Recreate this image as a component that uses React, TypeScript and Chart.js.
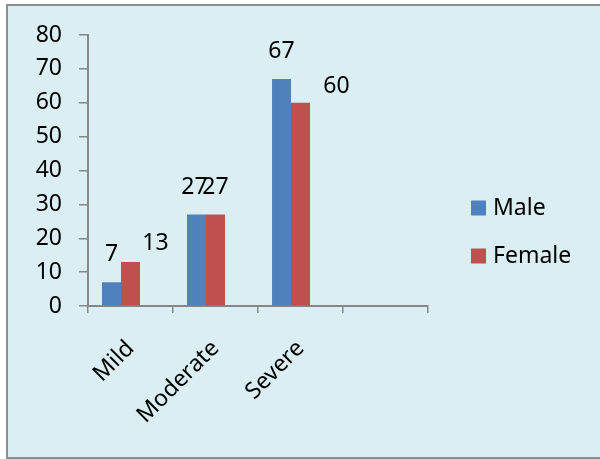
import { useEffect, useRef } from "react";
import { Chart, ChartConfiguration, Plugin, registerables } from "chart.js";

Chart.register(...registerables);

const categories = ["Mild", "Moderate", "Severe", ""];
const maleValues = [7, 27, 67];
const femaleValues = [13, 27, 60];
// third, empty series keeps the gap on the right of each group (as in the source sheet)
const blankValues: (number | null)[] = [null, null, null];
const yTicks = [0, 10, 20, 30, 40, 50, 60, 70, 80];

// where each value label sits relative to the top of its bar
const maleLabelOffsets = [
  [0, -28],
  [-2, -27],
  [0, -28],
];
const femaleLabelOffsets = [
  [25, -19],
  [0, -27],
  [36, -16],
];

const FONT = "'Noto Sans', sans-serif";
const FONT_SIZE = 23;
const AXIS_GREY = "#868686";

const valueLabels: Plugin<"bar"> = {
  id: "valueLabels",
  afterDatasetsDraw(chart) {
    const ctx = chart.ctx;
    const offsets = [maleLabelOffsets, femaleLabelOffsets];
    ctx.save();
    ctx.font = `${FONT_SIZE}px ${FONT}`;
    ctx.fillStyle = "#000";
    ctx.textAlign = "center";
    ctx.textBaseline = "middle";
    offsets.forEach((list, di) => {
      const meta = chart.getDatasetMeta(di);
      const values = chart.data.datasets[di].data as number[];
      meta.data.forEach((bar, i) => {
        if (values[i] == null) return;
        const [dx, dy] = list[i] || [0, -20];
        ctx.fillText(String(values[i]), bar.x + dx, bar.y + dy);
      });
    });
    ctx.restore();
  },
};

const sideLegend: Plugin<"bar"> = {
  id: "sideLegend",
  afterDraw(chart) {
    const ctx = chart.ctx;
    const left = chart.chartArea.right + 43;
    ctx.save();
    ctx.font = `${FONT_SIZE}px ${FONT}`;
    ctx.textBaseline = "middle";
    ctx.textAlign = "left";
    chart.data.datasets
      .filter((d) => d.label)
      .forEach((d, i) => {
        const cy = 208 + i * 48;
        ctx.fillStyle = d.backgroundColor as string;
        ctx.fillRect(left, cy - 7.5, 15, 15);
        ctx.fillStyle = "#000";
        ctx.fillText(d.label as string, left + 22, cy);
      });
    ctx.restore();
  },
};

export default function App() {
  const canvasRef = useRef<HTMLCanvasElement | null>(null);
  const chartRef = useRef<Chart | null>(null);

  useEffect(() => {
    document.body.style.margin = "0";
    if (!canvasRef.current) return;

    const config: ChartConfiguration<"bar"> = {
      type: "bar",
      data: {
        labels: categories,
        datasets: [
          { label: "Male", data: maleValues, backgroundColor: "#4F81BD" },
          { label: "Female", data: femaleValues, backgroundColor: "#C0504D" },
          { label: "", data: blankValues as number[], backgroundColor: "transparent" },
        ],
      },
      options: {
        animation: false,
        responsive: true,
        maintainAspectRatio: false,
        layout: { padding: { top: 35, right: 172, left: 0, bottom: 0 } },
        datasets: {
          bar: { categoryPercentage: 0.67, barPercentage: 1 },
        },
        scales: {
          x: {
            afterFit: (scale) => {
              scale.height = 153;
            },
            grid: {
              offset: true,
              drawOnChartArea: false,
              drawTicks: true,
              tickLength: 7,
              color: AXIS_GREY,
              lineWidth: 1.5,
            },
            border: { color: AXIS_GREY, width: 2 },
            ticks: {
              maxRotation: 45,
              minRotation: 45,
              padding: 22,
              color: "#000",
              font: { family: FONT, size: FONT_SIZE },
            },
          },
          y: {
            min: 0,
            max: 80,
            afterFit: (scale) => {
              scale.width = 88;
            },
            afterBuildTicks: (scale) => {
              scale.ticks = yTicks.map((v) => ({ value: v }));
            },
            grid: {
              drawOnChartArea: false,
              drawTicks: true,
              tickLength: 9,
              color: AXIS_GREY,
              lineWidth: 1.5,
            },
            border: { color: AXIS_GREY, width: 2 },
            ticks: {
              padding: 17,
              color: "#000",
              font: { family: FONT, size: FONT_SIZE },
            },
          },
        },
        plugins: {
          legend: { display: false },
          tooltip: { enabled: false },
        },
      },
      plugins: [valueLabels, sideLegend],
    };

    chartRef.current = new Chart(canvasRef.current, config);
    return () => {
      chartRef.current?.destroy();
      chartRef.current = null;
    };
  }, []);

  return (
    <div style={{ position: "absolute", left: 0, top: 0, width: 600, height: 459, background: "#fff" }}>
      <div
        style={{
          position: "absolute",
          left: 6,
          top: 4,
          width: 592,
          height: 451,
          background: "#DAEEF3",
          borderTop: "2px solid #8E8E8E",
          borderLeft: "2px solid #8E8E8E",
          borderBottom: "2px solid #8E8E8E",
        }}
      />
      <div style={{ position: "absolute", left: 0, top: 0, width: 600, height: 459 }}>
        <canvas ref={canvasRef} />
      </div>
    </div>
  );
}
